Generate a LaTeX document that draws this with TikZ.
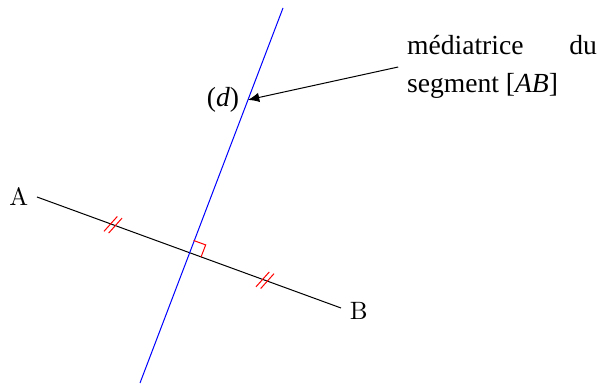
\documentclass[tikz,border=0pt]{standalone}
\usepackage{fontspec}
\newfontfamily\legfont{Liberation Serif}
\usepackage{tikz}
\usetikzlibrary{calc,angles,arrows.meta,decorations.markings}
\definecolor{rouge}{HTML}{FF0000}
\definecolor{bleu}{HTML}{0000FF}
\begin{document}
\begin{tikzpicture}[
    x=0.014cm,y=0.014cm,
    codage/.style={postaction={decorate},decoration={markings,
      mark=at position 0.25 with {\draw[rouge] (-0.087cm,-0.13cm) -- (0.017cm,0.13cm);
                                  \draw[rouge] (-0.017cm,-0.13cm) -- (0.087cm,0.13cm);},
      mark=at position 0.75 with {\draw[rouge] (-0.087cm,-0.13cm) -- (0.017cm,0.13cm);
                                  \draw[rouge] (-0.017cm,-0.13cm) -- (0.087cm,0.13cm);}}},
    nom/.style={font=\legfont\fontsize{11}{15}\selectfont},
    legende/.style={nom,text width=2.66cm,align=justify}]
  \useasboundingbox (0,0) rectangle (600,390);
  % --- segment [AB] et sa mediatrice
  \coordinate (A) at (37,193);
  \coordinate (B) at (341,82);
  \coordinate (I) at ($(A)!0.5!(B)$);
  \coordinate (d1) at (140,7);
  \coordinate (d2) at (283,382);
  \draw[codage] (A) -- (B);
  \draw[bleu] (d1) -- (d2);
  \pic[draw=rouge,angle radius=0.18cm] {right angle=B--I--d2};
  \node[left] at (A) {A};
  \node[right,yshift=-0.04cm] at (B) {B};
  % --- nom de la droite et legende
  \coordinate (dpt) at ($(d1)!0.755!(d2)$);
  \node[nom,left] at (dpt) {(\textit{d})};
  \node[legende] (lbl) at (502,323) {médiatrice du segment [\textit{AB}]};
  \draw[-{Latex[length=4.5pt,width=3.8pt]}] (lbl.west) -- (dpt);
\end{tikzpicture}
\end{document}
